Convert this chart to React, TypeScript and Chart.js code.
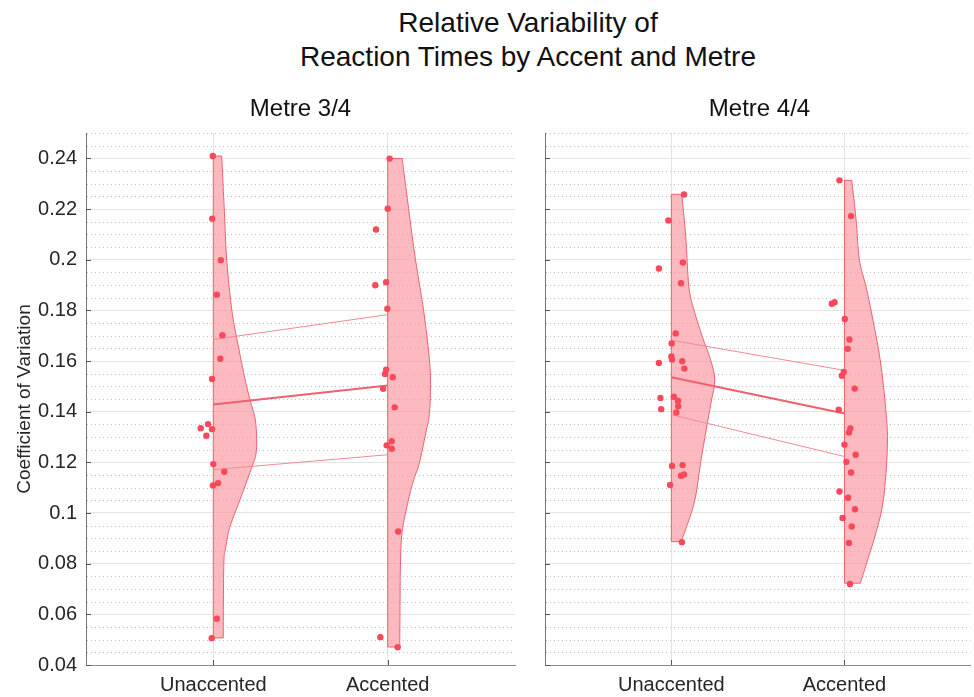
import React, { useEffect, useRef } from 'react';
import { Chart, registerables } from 'chart.js';

Chart.register(...registerables);

const FONT = "'Liberation Sans', Arial, Helvetica, sans-serif";

// ---- data -----------------------------------------------------------------
const categories = ['Unaccented', 'Accented'];
const metreTitles = ['Metre 3/4', 'Metre 4/4'];
const yTickValues = [0.04, 0.06, 0.08, 0.1, 0.12, 0.14, 0.16, 0.18, 0.2, 0.22, 0.24];
const Y_MIN = 0.04;
const Y_MAX = 0.25;
const X_MIN = 0.27;
const X_MAX = 2.73;

// Metre 3/4: coefficient of variation per participant, with horizontal jitter
const m34Unaccented = [0.2409, 0.2162, 0.1998, 0.1862, 0.1702, 0.1609, 0.1529, 0.1335, 0.1351, 0.1331, 0.1305, 0.1193, 0.1163, 0.1109, 0.1118, 0.0583, 0.0506];
const m34UnaccentedJitter = [-0.003, -0.006, 0.043, 0.02, 0.052, 0.04, -0.007, -0.072, -0.03, -0.007, -0.04, 0.0, 0.063, -0.002, 0.027, 0.02, -0.009];
const m34Accented = [0.2399, 0.2201, 0.2119, 0.1899, 0.1911, 0.1806, 0.1566, 0.1549, 0.1536, 0.149, 0.1417, 0.1283, 0.1267, 0.1254, 0.0927, 0.051, 0.047];
const m34AccentedJitter = [0.011, 0.0, -0.067, -0.071, -0.009, -0.002, -0.009, -0.015, 0.029, -0.026, 0.04, 0.023, -0.006, 0.023, 0.06, -0.042, 0.057];

// Metre 4/4
const m44Unaccented = [0.2257, 0.2155, 0.1965, 0.1989, 0.1907, 0.1709, 0.1669, 0.1618, 0.1606, 0.1599, 0.1592, 0.157, 0.1454, 0.1459, 0.1443, 0.1421, 0.141, 0.1397, 0.1186, 0.1189, 0.1147, 0.1152, 0.1111, 0.0885];
const m44UnaccentedJitter = [0.073, -0.017, -0.072, 0.067, 0.056, 0.025, 0.002, 0.0, 0.004, 0.063, -0.072, 0.075, -0.063, 0.014, 0.038, 0.04, -0.059, 0.029, 0.004, 0.065, 0.056, 0.073, -0.007, 0.061];
const m44Accented = [0.2313, 0.2172, 0.1826, 0.1832, 0.1766, 0.1685, 0.1648, 0.1557, 0.1542, 0.1491, 0.1408, 0.1334, 0.1318, 0.127, 0.123, 0.1202, 0.116, 0.1085, 0.106, 0.1015, 0.098, 0.0947, 0.0882, 0.072];
const m44AccentedJitter = [-0.029, 0.038, -0.073, -0.057, 0.002, 0.029, 0.019, -0.004, -0.015, 0.059, -0.033, 0.034, 0.026, 0.0, 0.065, 0.011, 0.038, -0.029, 0.021, 0.061, -0.011, 0.042, 0.026, 0.032];

// Half-violin density outlines: level (CV) and half-width (category units)
const m34UnaccentedViolinLevels = [0.2409, 0.2198, 0.1999, 0.1802, 0.1685, 0.1515, 0.1424, 0.1368, 0.1289, 0.123, 0.1187, 0.1131, 0.1052, 0.0973, 0.0922, 0.0855, 0.0815, 0.0657, 0.0507];
const m34UnaccentedViolinWidths = [0.048, 0.063, 0.077, 0.106, 0.136, 0.186, 0.22, 0.241, 0.249, 0.244, 0.224, 0.195, 0.153, 0.109, 0.086, 0.069, 0.061, 0.058, 0.057];
const m34AccentedViolinLevels = [0.2399, 0.2201, 0.2, 0.18, 0.159, 0.1467, 0.1368, 0.1328, 0.1198, 0.1131, 0.1052, 0.0922, 0.0789, 0.0657, 0.0471];
const m34AccentedViolinWidths = [0.083, 0.12, 0.159, 0.206, 0.241, 0.245, 0.235, 0.222, 0.182, 0.149, 0.119, 0.082, 0.073, 0.071, 0.069];
const m44UnaccentedViolinLevels = [0.2258, 0.2093, 0.1895, 0.1803, 0.1698, 0.1606, 0.1526, 0.1435, 0.1328, 0.1198, 0.1052, 0.0934, 0.0887];
const m44UnaccentedViolinWidths = [0.06, 0.083, 0.101, 0.13, 0.178, 0.226, 0.251, 0.229, 0.201, 0.169, 0.136, 0.082, 0.054];
const m44AccentedViolinLevels = [0.2313, 0.2159, 0.2001, 0.1895, 0.1802, 0.1606, 0.1408, 0.1263, 0.1052, 0.0922, 0.0815, 0.0723];
const m44AccentedViolinWidths = [0.042, 0.067, 0.086, 0.124, 0.153, 0.206, 0.239, 0.248, 0.225, 0.182, 0.134, 0.092];

// Group means and the spread band joining Unaccented -> Accented
const m34Mean = [0.1428, 0.1503];
const m34Upper = [0.1685, 0.1783];
const m34Lower = [0.1171, 0.123];
const m44Mean = [0.1536, 0.1393];
const m44Upper = [0.1682, 0.1563];
const m44Lower = [0.1388, 0.1223];

// ---- styling ----------------------------------------------------------------
const POINT_COLOR = '#f8485a';
const VIOLIN_FILL = 'rgba(250, 150, 160, 0.66)';
const VIOLIN_EDGE = '#f0606e';
const MEAN_COLOR = '#f0606e';
const BAND_COLOR = '#f48892';
const MAJOR_GRID = '#e4e4e4';
const MINOR_GRID = '#c2c2c2';
const AXIS_COLOR = '#737373';
const TEXT_COLOR = '#262626';

type Group = { values: number[]; jitter: number[]; levels: number[]; widths: number[] };
type PanelData = { groups: Group[]; mean: number[]; upper: number[]; lower: number[] };

const panels: PanelData[] = [
  {
    groups: [
      { values: m34Unaccented, jitter: m34UnaccentedJitter, levels: m34UnaccentedViolinLevels, widths: m34UnaccentedViolinWidths },
      { values: m34Accented, jitter: m34AccentedJitter, levels: m34AccentedViolinLevels, widths: m34AccentedViolinWidths },
    ],
    mean: m34Mean,
    upper: m34Upper,
    lower: m34Lower,
  },
  {
    groups: [
      { values: m44Unaccented, jitter: m44UnaccentedJitter, levels: m44UnaccentedViolinLevels, widths: m44UnaccentedViolinWidths },
      { values: m44Accented, jitter: m44AccentedJitter, levels: m44AccentedViolinLevels, widths: m44AccentedViolinWidths },
    ],
    mean: m44Mean,
    upper: m44Upper,
    lower: m44Lower,
  },
];

const formatTick = (v: number) => String(Number(v.toFixed(3)));

// Dotted minor grid, half violins and inward tick marks, all placed via the chart scales
function makePanelPlugin(panel: PanelData) {
  return {
    id: 'panelDecor',
    beforeDatasetsDraw(chart: any) {
      const { ctx, chartArea, scales } = chart;
      const x = scales.x;
      const y = scales.y;
      ctx.save();
      ctx.beginPath();
      ctx.rect(chartArea.left, chartArea.top, chartArea.right - chartArea.left, chartArea.bottom - chartArea.top);
      ctx.clip();

      // minor grid every 0.005
      ctx.strokeStyle = MINOR_GRID;
      ctx.lineWidth = 1;
      ctx.setLineDash([1, 3]);
      const steps = Math.round((Y_MAX - Y_MIN) / 0.005);
      for (let k = 1; k <= steps; k++) {
        if (k % 4 === 0) continue;
        const py = Math.round(y.getPixelForValue(Y_MIN + k * 0.005)) + 0.5;
        ctx.beginPath();
        ctx.moveTo(chartArea.left + 1, py);
        ctx.lineTo(chartArea.right, py);
        ctx.stroke();
      }
      ctx.setLineDash([]);

      // half violins to the right of each category
      panel.groups.forEach((g, gi) => {
        const base = gi + 1;
        const cx = x.getPixelForValue(base);
        const pts = g.levels.map((lv, i) => ({
          px: x.getPixelForValue(base + g.widths[i]),
          py: y.getPixelForValue(lv),
        }));
        ctx.beginPath();
        ctx.moveTo(cx, pts[0].py);
        ctx.lineTo(pts[0].px, pts[0].py);
        for (let i = 0; i < pts.length - 1; i++) {
          const p0 = pts[Math.max(i - 1, 0)];
          const p1 = pts[i];
          const p2 = pts[i + 1];
          const p3 = pts[Math.min(i + 2, pts.length - 1)];
          const c1x = p1.px + (p2.px - p0.px) / 6;
          const c1y = p1.py + (p2.py - p0.py) / 6;
          const c2x = p2.px - (p3.px - p1.px) / 6;
          const c2y = p2.py - (p3.py - p1.py) / 6;
          ctx.bezierCurveTo(c1x, c1y, c2x, c2y, p2.px, p2.py);
        }
        ctx.lineTo(cx, pts[pts.length - 1].py);
        ctx.closePath();
        ctx.fillStyle = VIOLIN_FILL;
        ctx.fill();
        ctx.strokeStyle = VIOLIN_EDGE;
        ctx.lineWidth = 1;
        ctx.stroke();
      });
      ctx.restore();
    },
    afterDraw(chart: any) {
      const { ctx, chartArea, scales } = chart;
      const x = scales.x;
      const y = scales.y;
      ctx.save();
      ctx.strokeStyle = '#555555';
      ctx.lineWidth = 1;
      yTickValues.forEach((v) => {
        const py = Math.round(y.getPixelForValue(v)) + 0.5;
        ctx.beginPath();
        ctx.moveTo(chartArea.left, py);
        ctx.lineTo(chartArea.left + 5, py);
        ctx.stroke();
      });
      categories.forEach((_, i) => {
        const px = Math.round(x.getPixelForValue(i + 1)) + 0.5;
        ctx.beginPath();
        ctx.moveTo(px, chartArea.bottom);
        ctx.lineTo(px, chartArea.bottom - 5);
        ctx.stroke();
      });
      ctx.restore();
    },
  };
}

function Panel({ index, width, axisWidth, padRight }: { index: number; width: number; axisWidth: number; padRight: number }) {
  const ref = useRef<HTMLCanvasElement | null>(null);
  const panel = panels[index];
  const showLabels = index === 0;

  useEffect(() => {
    if (!ref.current) return;
    const pointSets = panel.groups.map((g, gi) => ({
      type: 'scatter' as const,
      data: g.values.map((v, i) => ({ x: gi + 1 + g.jitter[i], y: v })),
      backgroundColor: POINT_COLOR,
      borderWidth: 0,
      pointRadius: 3.2,
      pointHoverRadius: 3.2,
      showLine: false,
    }));
    const line = (vals: number[], color: string, w: number) => ({
      type: 'scatter' as const,
      data: vals.map((v, i) => ({ x: i + 1, y: v })),
      borderColor: color,
      backgroundColor: color,
      borderWidth: w,
      pointRadius: 0,
      showLine: true,
    });

    const chart = new Chart(ref.current, {
      type: 'scatter',
      data: {
        datasets: [
          ...pointSets,
          line(panel.mean, MEAN_COLOR, 2),
          line(panel.upper, BAND_COLOR, 1),
          line(panel.lower, BAND_COLOR, 1),
        ] as any,
      },
      options: {
        responsive: false,
        animation: false,
        devicePixelRatio: 1,
        events: [],
        layout: { padding: { top: 13, right: padRight, bottom: 0, left: 0 } },
        plugins: { legend: { display: false }, tooltip: { enabled: false }, title: { display: false } },
        scales: {
          x: {
            type: 'linear',
            min: X_MIN,
            max: X_MAX,
            bounds: 'data',
            afterBuildTicks: (s: any) => {
              s.ticks = categories.map((_, i) => ({ value: i + 1 }));
            },
            afterFit: (s: any) => {
              s.height = 32;
              s.paddingLeft = 0;
              s.paddingRight = 0;
            },
            grid: { color: MAJOR_GRID, lineWidth: 1, drawTicks: false },
            border: { display: true, color: '#8a8a8a', width: 1 },
            ticks: {
              padding: 8,
              maxRotation: 0,
              autoSkip: false,
              color: TEXT_COLOR,
              font: { family: FONT, size: 20 },
              callback: (v: any) => categories[Math.round(Number(v)) - 1] ?? '',
            },
          },
          y: {
            type: 'linear',
            min: Y_MIN,
            max: Y_MAX,
            bounds: 'data',
            afterBuildTicks: (s: any) => {
              s.ticks = yTickValues.map((v) => ({ value: v }));
            },
            afterFit: (s: any) => {
              s.width = axisWidth;
              s.paddingTop = 0;
              s.paddingBottom = 0;
            },
            grid: { color: MAJOR_GRID, lineWidth: 1, drawTicks: false },
            border: { display: true, color: AXIS_COLOR, width: 1 },
            ticks: {
              display: showLabels,
              padding: 9,
              color: TEXT_COLOR,
              font: { family: FONT, size: 20 },
              callback: (v: any) => formatTick(Number(v)),
            },
            title: {
              display: showLabels,
              text: 'Coefficient of Variation',
              color: TEXT_COLOR,
              font: { family: FONT, size: 19 },
              padding: { top: 13, bottom: 0 },
            },
          },
        },
      } as any,
      plugins: [makePanelPlugin(panel)],
    });
    return () => chart.destroy();
  }, []);

  return <canvas ref={ref} width={width} height={577} style={{ width, height: 577, display: 'block' }} />;
}

export default function App() {
  return (
    <div style={{ position: 'fixed', left: 0, top: 0, width: 974, height: 697, background: '#ffffff', overflow: 'hidden', fontFamily: FONT, color: '#111' }}>
      <div style={{ position: 'absolute', left: 0, top: 120 }}>
        <Panel index={0} width={530} axisWidth={86} padRight={15} />
      </div>
      <div style={{ position: 'absolute', left: 530, top: 120 }}>
        <Panel index={1} width={444} axisWidth={15} padRight={0} />
      </div>
      <div style={{ position: 'absolute', left: 228, top: 6, width: 600, textAlign: 'center', fontSize: 28, lineHeight: '34px' }}>
        <div>Relative Variability of</div>
        <div>Reaction Times by Accent and Metre</div>
      </div>
      {metreTitles.map((t, i) => (
        <div
          key={t}
          style={{ position: 'absolute', left: i === 0 ? 200.5 : 659.5, top: 94, width: 200, textAlign: 'center', fontSize: 24, lineHeight: '28px' }}
        >
          {t}
        </div>
      ))}
    </div>
  );
}
